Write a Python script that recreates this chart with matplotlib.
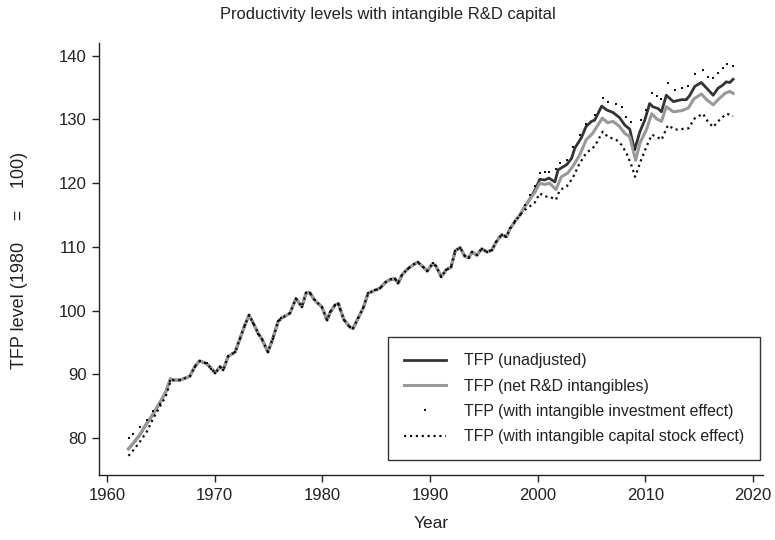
import numpy as np
import matplotlib
matplotlib.use("Agg")
from matplotlib import pyplot as plt

# Early years (1962-1965): the adjusted series split off from the headline one
early_years = [1962.0, 1962.45, 1963.05, 1963.7, 1964.3, 1964.9, 1965.45, 1965.9]
early_main = [78.3, 79.2, 80.5, 82.3, 83.8, 85.5, 87.2, 89.3]
early_invest = [80.0, 80.7, 81.7, 82.9, 84.2, 85.3, 86.8, 88.9]
early_stock = [77.2, 78.1, 79.4, 81.0, 83.1, 84.9, 86.5, 88.9]

# 1966-1998: all four series lie on top of each other
common_years = [1966.15, 1966.8, 1967.7, 1968.15, 1968.6, 1969.25, 1969.7, 1970.05,
                1970.5, 1970.8, 1971.25, 1971.9, 1972.35, 1972.8, 1973.2, 1973.6,
                1974.05, 1974.4, 1974.95, 1975.4, 1975.9, 1976.2, 1977.0, 1977.55,
                1978.1, 1978.5, 1978.85, 1979.3, 1979.95, 1980.45, 1980.75, 1981.2,
                1981.5, 1981.65, 1982.0, 1982.55, 1982.85, 1983.35, 1983.8, 1984.25,
                1984.9, 1985.35, 1985.9, 1986.35, 1986.75, 1987.05, 1987.4, 1987.95,
                1988.55, 1988.85, 1989.35, 1989.75, 1990.25, 1990.55, 1991.05, 1991.5,
                1991.95, 1992.35, 1992.8, 1993.25, 1993.6, 1993.9, 1994.35, 1994.8,
                1995.3, 1995.75, 1996.15, 1996.65, 1997.1, 1997.45, 1997.9, 1998.35]
common_vals = [89.1, 89.1, 89.7, 91.2, 92.1, 91.7, 90.9, 90.2,
               91.2, 90.7, 92.8, 93.5, 95.6, 97.7, 99.3, 98.0,
               96.4, 95.5, 93.5, 95.6, 98.3, 98.8, 99.6, 101.9,
               100.6, 102.8, 102.8, 101.6, 100.6, 98.5, 99.8, 100.9,
               101.1, 100.3, 98.6, 97.4, 97.2, 98.9, 100.4, 102.7,
               103.2, 103.5, 104.5, 104.9, 105.0, 104.3, 105.6, 106.6,
               107.3, 107.6, 106.9, 106.2, 107.4, 107.0, 105.3, 106.4,
               106.8, 109.4, 109.9, 108.5, 108.3, 109.2, 108.7, 109.7,
               109.2, 109.5, 110.8, 111.9, 111.6, 112.9, 114.0, 115.0]

# 1998-2018: the series fan out again
late_main_years = [1998.8, 1999.3, 1999.75, 2000.2, 2000.65, 2001.05, 2001.6, 2001.9,
                   2002.7, 2003.15, 2003.45, 2004.05, 2004.5, 2005.0, 2005.3, 2005.95,
                   2006.4, 2007.0, 2007.6, 2008.1, 2008.55, 2009.0, 2009.5, 2009.95,
                   2010.4, 2010.7, 2011.2, 2011.5, 2011.95, 2012.6, 2013.35, 2013.8,
                   2014.1, 2014.6, 2015.2, 2015.7, 2016.3, 2016.75, 2017.2, 2017.5,
                   2017.85, 2018.15]
late_unadj = [116.3, 117.6, 118.9, 120.6, 120.5, 120.8, 120.2, 122.1,
              122.9, 123.9, 125.5, 127.1, 128.9, 129.7, 129.9, 132.1,
              131.5, 131.1, 130.3, 129.1, 128.5, 125.2, 128.1, 129.9,
              132.5, 132.0, 131.7, 131.2, 133.8, 132.8, 133.1, 133.1,
              133.7, 135.2, 135.8, 134.9, 133.8, 134.9, 135.4, 135.9,
              135.8, 136.3]

late_net_years = [1998.8, 1999.3, 1999.75, 2000.2, 2000.65, 2001.1, 2001.7, 2002.2,
                  2002.8, 2003.25, 2003.9, 2004.5, 2005.1, 2006.0, 2006.5, 2007.0,
                  2007.6, 2008.1, 2008.55, 2009.1, 2009.5, 2010.1, 2010.6, 2011.05,
                  2011.5, 2011.95, 2012.6, 2013.4, 2014.0, 2014.5, 2015.2, 2015.7,
                  2016.3, 2016.75, 2017.4, 2017.85, 2018.15]
late_net = [116.3, 117.5, 118.6, 120.0, 119.8, 120.0, 119.0, 121.0,
            121.6, 122.6, 124.4, 126.8, 127.8, 130.2, 129.5, 129.7,
            128.9, 127.8, 127.3, 123.6, 126.3, 128.4, 130.9, 130.1,
            129.7, 132.0, 131.2, 131.4, 131.8, 133.2, 134.0, 133.1,
            132.3, 133.1, 134.1, 134.4, 134.1]

late_adj_years = [1998.8, 1999.3, 1999.75, 2000.2, 2000.65, 2001.1, 2001.7, 2002.05,
                  2002.7, 2003.25, 2003.9, 2004.5, 2005.3, 2006.05, 2006.5, 2007.3,
                  2007.8, 2008.25, 2008.65, 2009.05, 2009.6, 2010.1, 2010.6, 2011.05,
                  2011.5, 2012.1, 2012.75, 2013.4, 2014.0, 2014.6, 2015.35, 2015.8,
                  2016.3, 2016.75, 2017.2, 2017.6, 2018.15]
late_invest = [116.6, 118.2, 119.5, 121.6, 121.8, 121.8, 122.3, 123.1,
               123.6, 125.6, 127.6, 129.3, 130.7, 133.3, 132.8, 132.5,
               132.0, 130.4, 129.6, 125.4, 129.9, 131.5, 134.2, 133.7,
               133.2, 135.7, 134.7, 135.0, 135.2, 137.1, 137.7, 136.7,
               136.5, 137.3, 138.1, 138.7, 138.4]
late_stock = [115.8, 116.4, 117.0, 118.4, 117.9, 117.9, 117.4, 118.9,
              119.5, 120.8, 123.1, 124.7, 125.8, 128.1, 127.3, 126.8,
              126.0, 124.7, 123.1, 121.0, 123.6, 125.7, 127.6, 127.3,
              126.8, 129.1, 128.4, 128.5, 128.6, 130.2, 130.9, 129.7,
              128.8, 129.7, 130.4, 130.9, 130.5]

labels = ['TFP (unadjusted)', 'TFP (net R&D intangibles)',
          'TFP (with intangible investment effect)',
          'TFP (with intangible capital stock effect)']


def join(*parts):
    return np.concatenate([np.asarray(p, dtype=float) for p in parts])


plt.rcParams['font.family'] = ['Liberation Sans', 'DejaVu Sans']
plt.rcParams['text.color'] = '#222222'
plt.rcParams['axes.labelcolor'] = '#222222'

fig = plt.figure(figsize=(7.75, 5.4), dpi=100)
ax = fig.add_axes([99 / 775, 65 / 540, 664 / 775, 432 / 540])

x_unadj = join(early_years, common_years, late_main_years)
x_net = join(early_years, common_years, late_net_years)
x_adj = join(early_years, common_years, late_adj_years)

ax.plot(x_unadj, join(early_main, common_vals, late_unadj),
        color='#333333', lw=2.0, label=labels[0], zorder=2)
ax.plot(x_net, join(early_main, common_vals, late_net),
        color='#999999', lw=2.2, label=labels[1], zorder=3)
ax.plot(x_adj, join(early_invest, common_vals, late_invest),
        color='#111111', ls='none', marker='s', ms=1.9, mew=0,
        label=labels[2], zorder=4)
ax.plot(x_adj, join(early_stock, common_vals, late_stock),
        color='#111111', ls=':', lw=1.6, label=labels[3], zorder=4)

ax.set_xlim(1959.26, 2020.93)
ax.set_ylim(74.2, 142.0)
ax.set_xticks([1960, 1970, 1980, 1990, 2000, 2010, 2020])
ax.set_yticks([80, 90, 100, 110, 120, 130, 140])

for side in ['top', 'right']:
    ax.spines[side].set_visible(False)
for side in ['left', 'bottom']:
    ax.spines[side].set_linewidth(1.0)
    ax.spines[side].set_color('#222222')
ax.tick_params(axis='both', which='major', labelsize=12, length=5,
               width=1.0, color='#222222', labelcolor='#222222', pad=4)

fig.text(0.5, 1 - 15 / 540, 'Productivity levels with intangible R&D capital',
         fontsize=11.9, ha='center', va='center')
ax.set_xlabel('Year', fontsize=12.5, labelpad=10)
ax.set_ylabel('TFP level (1980\u2003\u2009=\u2003\u2009100)', fontsize=13)
ax.yaxis.set_label_coords(-0.107, 0.497)

leg = ax.legend(loc='lower right', bbox_to_anchor=(0.9955, 0.0347),
                borderaxespad=0, fancybox=False, fontsize=11.4,
                handlelength=2.66, handletextpad=1.14, labelspacing=0.65,
                borderpad=1.0, framealpha=1)
leg.get_frame().set_edgecolor('#333333')
leg.get_frame().set_linewidth(1.0)

fig.savefig('out.png', dpi=100)
